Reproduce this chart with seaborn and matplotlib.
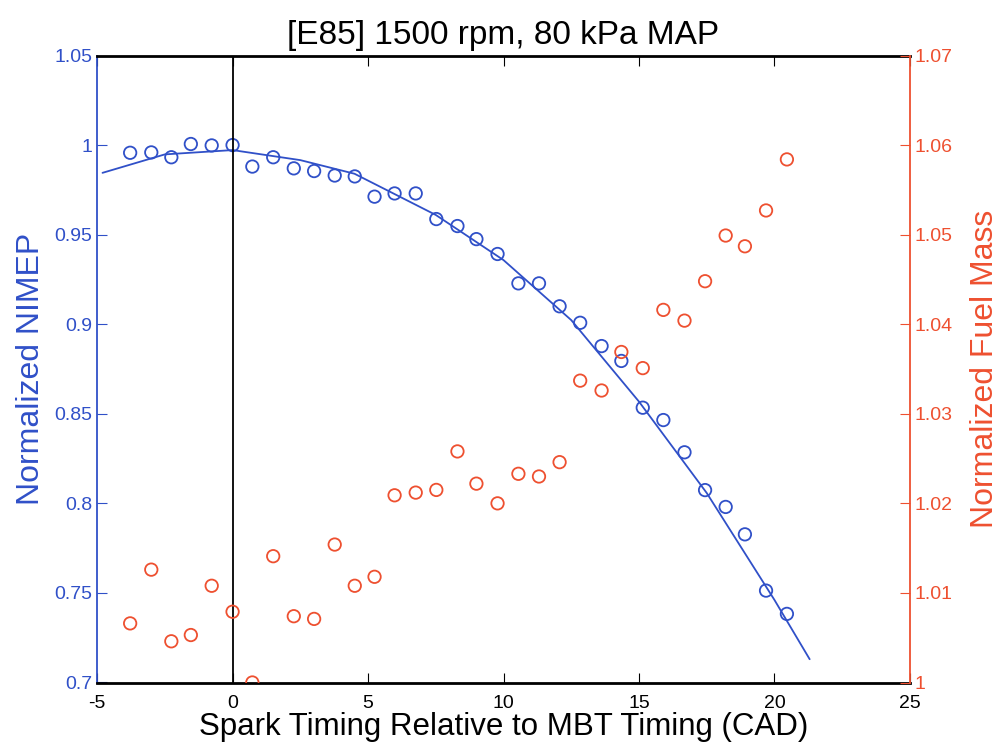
import numpy as np
import pandas as pd
import matplotlib
matplotlib.use("Agg")
import matplotlib.pyplot as plt
import seaborn as sns
from matplotlib.ticker import FuncFormatter, MultipleLocator

# spark timing relative to MBT (CAD)
spark = [-3.78, -3.0, -2.26, -1.54, -0.77, 0.0, 0.73, 1.5, 2.26, 3.01, 3.77, 4.51,
         5.24, 5.98, 6.76, 7.52, 8.3, 9.0, 9.78, 10.55, 11.31, 12.07, 12.83,
         13.62, 14.35, 15.14, 15.9, 16.68, 17.44, 18.2, 18.91, 19.69, 20.46]

nimep = [0.9957, 0.9959, 0.9932, 1.0006, 0.9998, 1.0, 0.988, 0.9932, 0.987, 0.9855,
         0.983, 0.9825, 0.9712, 0.973, 0.973, 0.9587, 0.9548, 0.9475, 0.9392,
         0.9228, 0.9228, 0.910, 0.9008, 0.8878, 0.8795, 0.8534, 0.8465, 0.8285,
         0.8074, 0.798, 0.7827, 0.7513, 0.7383]

fuel_mass = [1.0066, 1.0126, 1.0046, 1.0053, 1.0108, 1.0079, 1.0000, 1.0141,
             1.0074, 1.0071, 1.0154, 1.0108, 1.0118, 1.0209, 1.0212, 1.0215,
             1.0258, 1.0222, 1.0200, 1.0233, 1.0230, 1.0246, 1.0337, 1.0326,
             1.0369, 1.0351, 1.0416, 1.0404, 1.0448, 1.0499, 1.0487, 1.0527,
             1.0584]

# quadratic fit curve as drawn in the reference
fit_x = [-4.8, -2.5, 0.0, 2.5, 4.5, 7.5, 10.0, 12.5, 15.0, 17.5, 20.0, 21.3]
fit_y = [0.9845, 0.9948, 0.9972, 0.9916, 0.984, 0.961, 0.9358, 0.9023, 0.8568,
         0.8058, 0.7461, 0.713]

blue = "#3050C8"
red = "#EE5030"

sns.set_style("ticks")
plt.rcParams["font.family"] = ["Liberation Sans", "DejaVu Sans"]
plt.rcParams["axes.unicode_minus"] = False
plt.rcParams["text.color"] = "black"
plt.rcParams["axes.labelcolor"] = "black"

fig = plt.figure(figsize=(10.01, 7.5), dpi=100)
ax = fig.add_axes([0.097, 0.09, 0.812, 0.836])
ax2 = ax.twinx()

df = pd.DataFrame({"spark": spark, "nimep": nimep, "fuel": fuel_mass})
fit = pd.DataFrame({"x": fit_x, "y": fit_y})

sns.lineplot(data=fit, x="x", y="y", ax=ax, color=blue, lw=1.3, sort=False)
sns.scatterplot(data=df, x="spark", y="nimep", ax=ax, marker="o", s=80,
                facecolor="none", edgecolor=blue, linewidth=1.3)
sns.scatterplot(data=df, x="spark", y="fuel", ax=ax2, marker="o", s=80,
                facecolor="none", edgecolor=red, linewidth=1.3)

ax.axvline(0, color="k", lw=1.3)

ax.set_xlim(-5, 25)
ax.set_ylim(0.7, 1.05)
ax2.set_ylim(1.0, 1.07)
ax.xaxis.set_major_locator(MultipleLocator(5))
ax.yaxis.set_major_locator(MultipleLocator(0.05))
ax2.yaxis.set_major_locator(MultipleLocator(0.01))
ax.yaxis.set_major_formatter(FuncFormatter(lambda v, p: f"{round(v, 2):g}"))
ax2.yaxis.set_major_formatter(FuncFormatter(lambda v, p: f"{round(v, 2):g}"))

ax.tick_params(axis="x", direction="in", length=7, top=True, labelsize=14,
               colors="k", pad=9)
ax.tick_params(axis="y", direction="in", length=7, labelsize=14, colors=blue)
ax2.tick_params(axis="y", direction="in", length=7, labelsize=14, colors=red)

for s in ["top", "bottom"]:
    ax.spines[s].set_color("k")
    ax.spines[s].set_linewidth(2)
ax.spines["left"].set_color(blue)
ax.spines["left"].set_linewidth(1.3)
ax.spines["right"].set_visible(False)
ax2.spines["left"].set_visible(False)
ax2.spines["top"].set_visible(False)
ax2.spines["bottom"].set_visible(False)
ax2.spines["right"].set_color(red)
ax2.spines["right"].set_linewidth(1.3)
ax.spines["top"].set_visible(True)

ax.set_xlabel("Spark Timing Relative to MBT Timing (CAD)", fontsize=22.5, labelpad=0)
ax.set_ylabel("Normalized NIMEP", fontsize=23, color=blue, labelpad=6)
ax2.set_ylabel("Normalized Fuel Mass", fontsize=23, color=red, labelpad=12)
ax.set_title("[E85] 1500 rpm, 80 kPa MAP", fontsize=24, pad=8)

fig.savefig("out.png", dpi=100)
